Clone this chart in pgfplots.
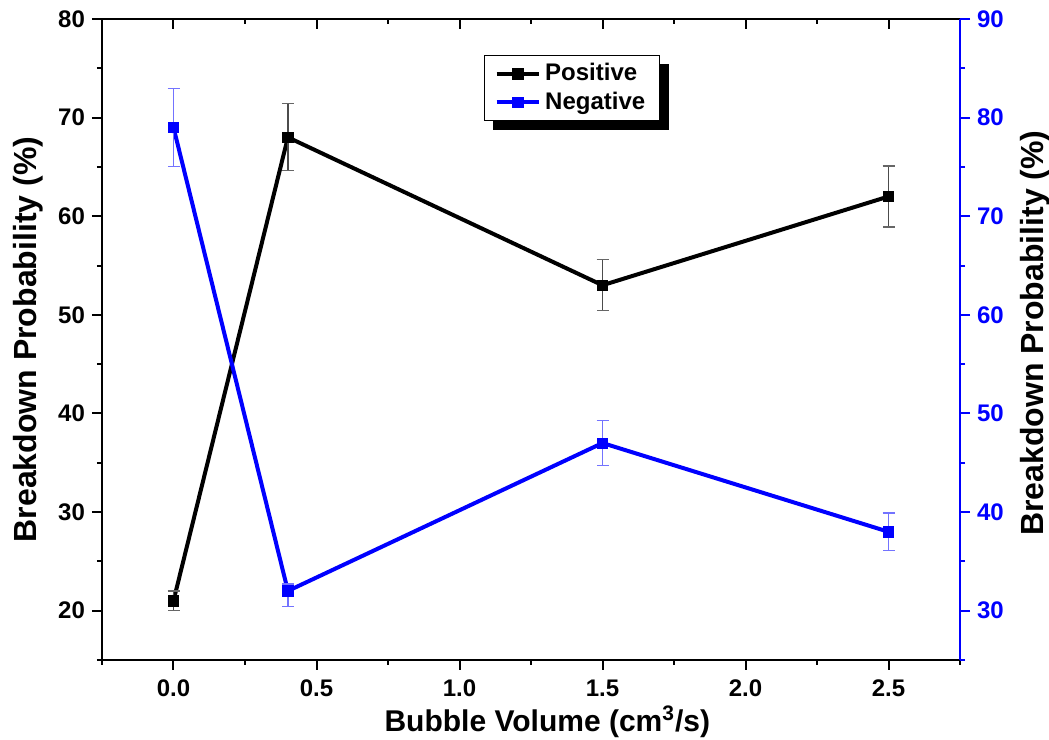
\documentclass[border=0pt]{standalone}
\usepackage{fontspec}
\setmainfont{Liberation Sans}
\usepackage{pgfplots}
\pgfplotsset{compat=1.18}
\usetikzlibrary{backgrounds}
\definecolor{negblue}{RGB}{0,0,255}

\begin{document}
\begin{tikzpicture}
\pgfplotsset{
  every axis/.append style={
    scale only axis, width=429pt, height=320.5pt,
    xmin=-0.25, xmax=2.75,
    xtick={0,0.5,...,2.5}, minor xtick={-0.25,0.25,...,2.75},
    /pgf/number format/assume math mode=true,
    tick label style={font=\fontsize{12}{14}\selectfont\bfseries},
    label style={font=\fontsize{15}{18}\selectfont\bfseries},
    major tick length=5pt, minor tick length=2.5pt,
    every tick/.style={line width=1pt},
    axis line style={line width=1.2pt},
  },
  ser/.style={line width=2pt, mark=square*, mark size=2.6pt, mark options={line width=0.3pt}},
}

% left axis: positive polarity
\begin{axis}[
  axis x line*=bottom, axis y line*=left,
  tick align=outside,
  ymin=15, ymax=80, ytick={20,30,...,80}, minor ytick={15,25,...,75},
  x tick label style={yshift=-1.5pt, /pgf/number format/.cd, fixed, fixed zerofill, precision=1},
  xlabel={Bubble Volume (cm$^{\mathbf{3}}$/s)},
  ylabel={Breakdown Probability (\%)},
  xlabel style={at={(axis description cs:0.519,-0.0967)}, anchor=center},
  ylabel style={at={(axis description cs:-0.0862,0.5)}, anchor=center,
    font=\fontsize{16}{18}\selectfont\bfseries},
  legend style={at={(0.445,0.944)}, anchor=north west, draw=black, line width=0.7pt,
    fill=white, name=leg,
    font=\fontsize{12}{14}\selectfont\bfseries, inner xsep=5pt, inner ysep=2pt, row sep=0pt},
  legend cell align=left,
  legend image code/.code={
    \draw[#1, mark=none] (0cm,0cm) -- (0.75cm,0cm);
    \draw[#1, only marks] plot coordinates {(0.375cm,0cm)};
  },
]
\addplot[black, ser,
  error bars/.cd, y dir=both, y explicit,
  error bar style={line width=0.6pt, black!70},
  error mark options={line width=0.6pt, mark size=3pt, black!60, rotate=90}]
  coordinates {
    (0,21)   +- (0,1.0)
    (0.4,68) +- (0,3.4)
    (1.5,53) +- (0,2.6)
    (2.5,62) +- (0,3.1)
  };
\addlegendentry{Positive}
\addlegendimage{negblue, ser}
\addlegendentry{Negative}
\coordinate (sw) at (rel axis cs:0,0);
\coordinate (ne) at (rel axis cs:1,1);
\end{axis}

% top frame with inward ticks
\begin{axis}[
  axis x line*=top, axis y line=none,
  tick align=inside, xticklabels={},
  ymin=15, ymax=80,
]
\addplot[draw=none] coordinates {(0,20)};
\end{axis}

% right axis: negative polarity
\begin{axis}[
  axis x line=none, axis y line*=right,
  tick align=outside,
  ymin=25, ymax=90, ytick={30,40,...,90}, minor ytick={25,35,...,85},
  y axis line style={negblue, line width=1.2pt},
  ytick style={negblue}, every minor tick/.append style={negblue},
  yticklabel style={text=negblue},
  ylabel={Breakdown Probability (\%)},
  ylabel style={at={(axis description cs:1.0874,0.51)}, anchor=center,
    font=\fontsize{16}{18}\selectfont\bfseries},
]
\addplot[negblue, ser,
  error bars/.cd, y dir=both, y explicit,
  error bar style={line width=0.6pt, negblue!55},
  error mark options={line width=0.6pt, mark size=3pt, negblue!55, rotate=90}]
  coordinates {
    (0,79)   +- (0,3.95)
    (0.4,32) += (0,0.7) -= (0,1.6)
    (1.5,47) +- (0,2.3)
    (2.5,38) +- (0,1.9)
  };
\end{axis}

% legend shadow
\begin{pgfonlayer}{background}
  \fill[black] ([shift={(4.5pt,-4.5pt)}]leg.south west) rectangle ([shift={(4.5pt,-4.5pt)}]leg.north east);
\end{pgfonlayer}

\pgfresetboundingbox
\path ([shift={(-51pt,-40pt)}]sw) rectangle ([shift={(44.5pt,9.5pt)}]ne);
\end{tikzpicture}
\end{document}
